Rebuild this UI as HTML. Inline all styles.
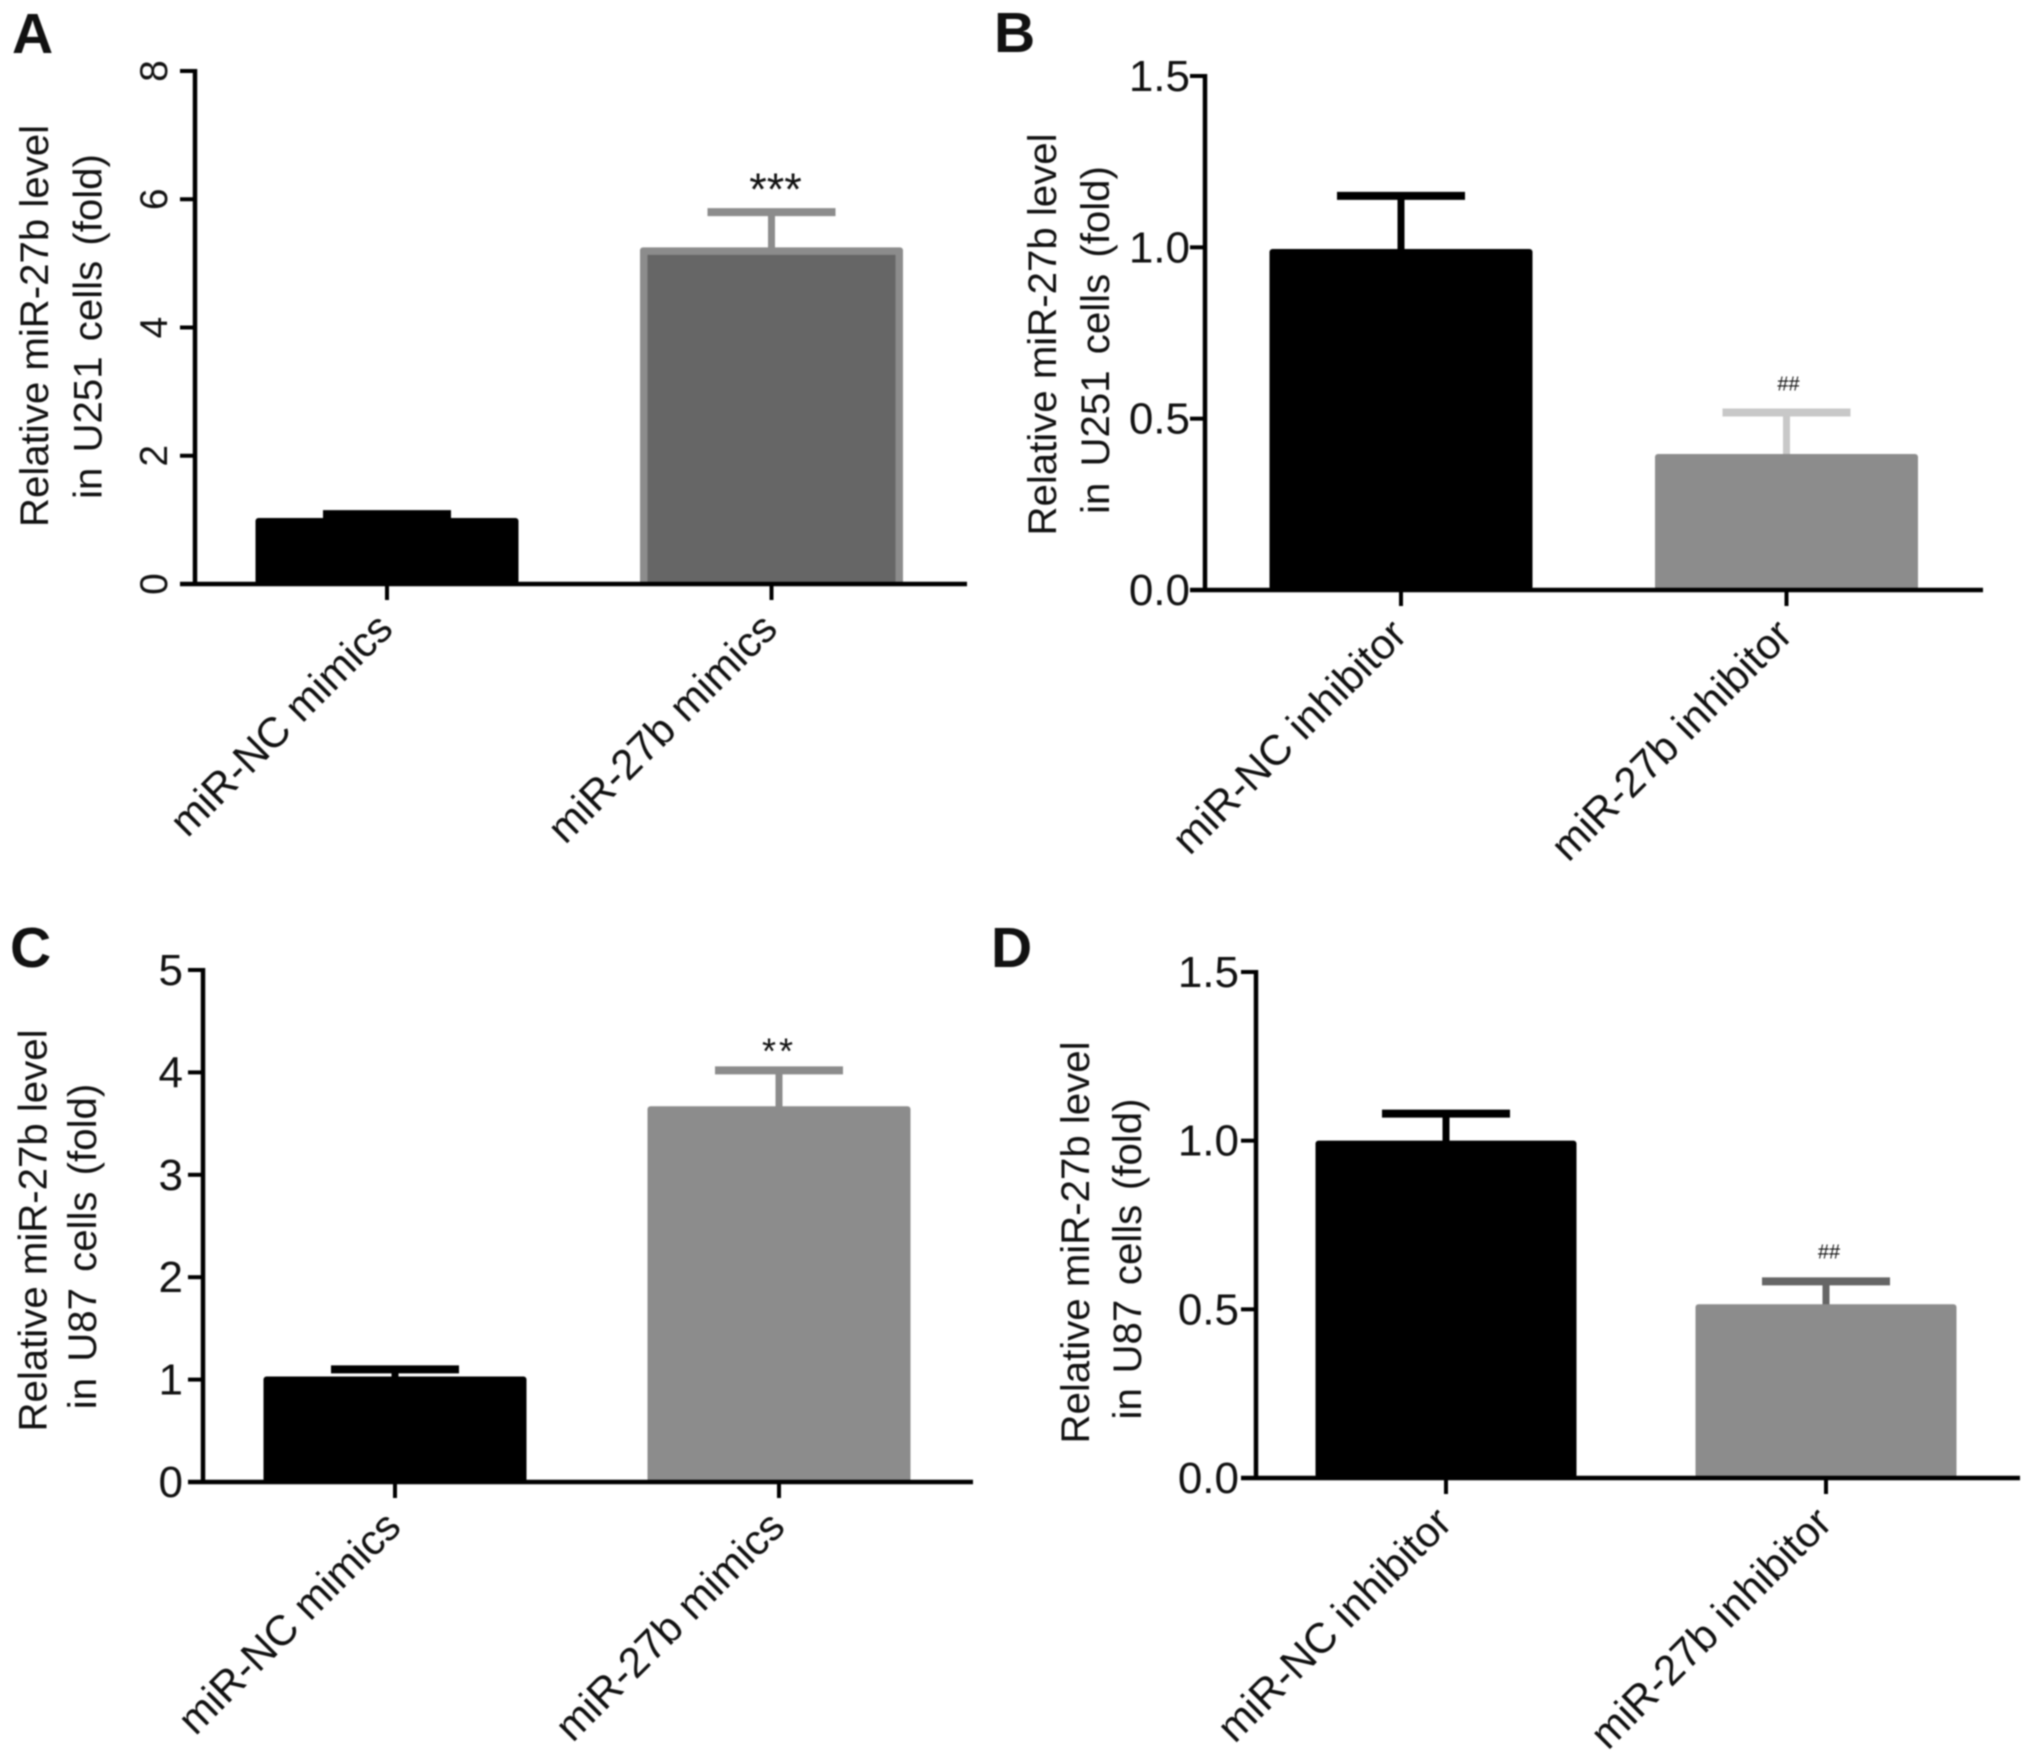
<!DOCTYPE html>
<html lang="en">
<head>
<meta charset="utf-8">
<title>Relative miR-27b level in U251 and U87 cells</title>
<style>
html,body{margin:0;padding:0;background:#fff;}
body{width:2031px;height:1761px;overflow:hidden;}
svg{display:block;filter:blur(0.8px);}
text{font-family:"Liberation Sans",Arial,sans-serif;fill:#111;}
</style>
</head>
<body>
<svg id="figure" xmlns="http://www.w3.org/2000/svg" width="2031" height="1761" viewBox="0 0 2031 1761"></svg>
<script>
const panelACategories = ['miR-NC mimics', 'miR-27b mimics'];
const panelAValues = [1.03, 5.25];
const panelAErrors = [1.09, 5.80];
const panelATicks = [0, 2, 4, 6, 8];
const panelATickLabels = ['0', '2', '4', '6', '8'];
const panelATitle = ['Relative miR-27b level', 'in U251 cells (fold)'];

const panelBCategories = ['miR-NC inhibitor', 'miR-27b inhibitor'];
const panelBValues = [0.995, 0.397];
const panelBErrors = [1.15, 0.518];
const panelBTicks = [0, 0.5, 1, 1.5];
const panelBTickLabels = ['0.0', '0.5', '1.0', '1.5'];
const panelBTitle = ['Relative miR-27b level', 'in U251 cells (fold)'];

const panelCCategories = ['miR-NC mimics', 'miR-27b mimics'];
const panelCValues = [1.03, 3.67];
const panelCErrors = [1.10, 4.02];
const panelCTicks = [0, 1, 2, 3, 4, 5];
const panelCTickLabels = ['0', '1', '2', '3', '4', '5'];
const panelCTitle = ['Relative miR-27b level', 'in U87 cells (fold)'];

const panelDCategories = ['miR-NC inhibitor', 'miR-27b inhibitor'];
const panelDValues = [1.0, 0.515];
const panelDErrors = [1.08, 0.583];
const panelDTicks = [0, 0.5, 1, 1.5];
const panelDTickLabels = ['0.0', '0.5', '1.0', '1.5'];
const panelDTitle = ['Relative miR-27b level', 'in U87 cells (fold)'];

const SVGNS = 'http://www.w3.org/2000/svg';
const svg = document.getElementById('figure');

function make(parent, tag, attrs, text) {
  const el = document.createElementNS(SVGNS, tag);
  for (const k in attrs) el.setAttribute(k, attrs[k]);
  if (text !== undefined) el.textContent = text;
  parent.appendChild(el);
  return el;
}

function drawPanel(c) {
  const g = make(svg, 'g', {});
  
  

  const maxTick = c.ticks[c.ticks.length - 1];
  const yScale = v => c.y0 - (c.y0 - c.yTop) * v / maxTick;
  const xScale = i => c.x1 + (c.x2 - c.x1) * i;

  const letter = make(g, 'text', {x: c.letterX, y: c.letterY, 'font-size': 57, 'font-weight': 'bold', fill: '#000'}, c.id.toUpperCase());
  
  

  c.values.forEach((v, i) => {
    const cx = xScale(i);
    const top = yScale(v);
    const capY = yScale(c.errors[i]);

    const stem = make(g, 'line', {x1: cx, x2: cx, y1: capY, y2: top + 3, stroke: c.capColors[i], 'stroke-width': 7});
    
    

    const cap = make(g, 'line', {x1: cx - 64, x2: cx + 64, y1: capY, y2: capY, stroke: c.capColors[i], 'stroke-width': 8});
    
    

    const sw = c.barStroke[i];
    const bar = make(g, 'rect', {
      x: cx - c.barW / 2,
      y: top,
      width: c.barW,
      height: c.y0 - top,
      rx: 3,
      fill: sw ? c.capColors[i] : c.barFill[i]
    });
    
    

    if (sw) {
      const inner = make(g, 'rect', {
        x: cx - c.barW / 2 + sw,
        y: top + sw,
        width: c.barW - 2 * sw,
        height: c.y0 - top - sw,
        fill: c.barFill[i]
      });
      
      
    }

    const tick = make(g, 'line', {x1: cx, x2: cx, y1: c.y0, y2: c.y0 + 16, stroke: '#000', 'stroke-width': 4});
    
    

    const lx = cx + 8;
    const ly = c.y0 + 47;
    const label = make(g, 'text', {
      x: lx, y: ly,
      'font-size': 42.3,
      'text-anchor': 'end',
      transform: 'rotate(-45 ' + lx + ' ' + ly + ')'
    }, c.categories[i]);
    
    
  });

  const yAxis = make(g, 'line', {x1: c.axisX, x2: c.axisX, y1: yScale(maxTick) - 2, y2: c.y0, stroke: '#000', 'stroke-width': 4.5});
  
  

  const xAxis = make(g, 'line', {x1: c.axisX - 15, x2: c.axisEnd, y1: c.y0, y2: c.y0, stroke: '#000', 'stroke-width': 4.5});
  
  

  c.ticks.forEach((t, i) => {
    const y = yScale(t);
    const tick = make(g, 'line', {x1: c.axisX - 15, x2: c.axisX, y1: y, y2: y, stroke: '#000', 'stroke-width': 4});
    
    

    let lab;
    if (c.rotateTicks) {
      const lx = c.axisX - 28;
      lab = make(g, 'text', {x: lx, y: y, 'font-size': 39, 'text-anchor': 'middle', transform: 'rotate(-90 ' + lx + ' ' + y + ')'}, c.tickLabels[i]);
    } else {
      lab = make(g, 'text', {x: c.axisX - c.labelGap, y: y + 15, 'font-size': 44, 'text-anchor': 'end'}, c.tickLabels[i]);
    }
    
    
  });

  c.title.forEach((line, i) => {
    const bx = c.titleX[i];
    const by = c.titleY[i];
    const t = make(g, 'text', {
      x: bx, y: by,
      'font-size': 40.2,
      'text-anchor': 'middle',
      'word-spacing': i === 1 ? c.titleWordSpacing : 0,
      transform: 'rotate(-90 ' + bx + ' ' + by + ')'
    }, line);
    
    
  });

  const sx = xScale(1) + c.sigDx;
  const sig = make(g, 'text', {x: sx, y: yScale(c.errors[1]) + c.sigDy, 'font-size': c.sigSize, 'text-anchor': 'middle', fill: '#333', 'letter-spacing': c.sigSpacing}, c.sig);
  
  
}

drawPanel({
  id: 'a', letterX: 12, letterY: 53,
  categories: panelACategories, values: panelAValues, errors: panelAErrors,
  ticks: panelATicks, tickLabels: panelATickLabels, title: panelATitle,
  axisX: 195, axisEnd: 967, y0: 584, yTop: 71, x1: 387, x2: 771.5, barW: 263,
  barFill: ['#000', '#666'], barStroke: [0, 7.5], capColors: ['#000', '#8c8c8c'],
  rotateTicks: true, labelGap: 20, titleX: [48, 101.5], titleY: [326, 326.5], titleWordSpacing: 4,
  sig: '***', sigDx: 4, sigDy: -7, sigSize: 45, sigSpacing: 0
});

drawPanel({
  id: 'b', letterX: 994, letterY: 52,
  categories: panelBCategories, values: panelBValues, errors: panelBErrors,
  ticks: panelBTicks, tickLabels: panelBTickLabels, title: panelBTitle,
  axisX: 1205, axisEnd: 1983, y0: 590, yTop: 76, x1: 1401, x2: 1786.5, barW: 263,
  barFill: ['#000', '#8c8c8c'], barStroke: [0, 0], capColors: ['#000', '#c8c8c8'],
  rotateTicks: false, labelGap: 15, titleX: [1056, 1109], titleY: [334.5, 340], titleWordSpacing: 5,
  sig: '##', sigDx: 2, sigDy: -22, sigSize: 20, sigSpacing: 0
});

drawPanel({
  id: 'c', letterX: 10, letterY: 967,
  categories: panelCCategories, values: panelCValues, errors: panelCErrors,
  ticks: panelCTicks, tickLabels: panelCTickLabels, title: panelCTitle,
  axisX: 203, axisEnd: 973, y0: 1482, yTop: 970, x1: 395, x2: 779, barW: 263,
  barFill: ['#000', '#8c8c8c'], barStroke: [0, 0], capColors: ['#000', '#8c8c8c'],
  rotateTicks: false, labelGap: 20, titleX: [46.5, 96], titleY: [1230.5, 1246.5], titleWordSpacing: 5,
  sig: '**', sigDx: 0, sigDy: -7, sigSize: 36, sigSpacing: 3
});

drawPanel({
  id: 'd', letterX: 991, letterY: 967,
  categories: panelDCategories, values: panelDValues, errors: panelDErrors,
  ticks: panelDTicks, tickLabels: panelDTickLabels, title: panelDTitle,
  axisX: 1256, axisEnd: 2020, y0: 1478, yTop: 972, x1: 1446, x2: 1826, barW: 261,
  barFill: ['#000', '#8c8c8c'], barStroke: [0, 0], capColors: ['#000', '#666'],
  rotateTicks: false, labelGap: 17, titleX: [1089, 1141], titleY: [1242.5, 1259], titleWordSpacing: 3.5,
  sig: '##', sigDx: 3, sigDy: -23, sigSize: 20, sigSpacing: 0
});
</script>
</body>
</html>
